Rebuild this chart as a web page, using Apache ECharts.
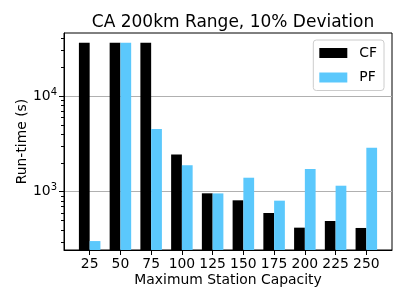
<!DOCTYPE html>
<html><head><meta charset="utf-8">
<script src="https://cdn.jsdelivr.net/npm/echarts@6/dist/echarts.min.js"></script>
<style>html,body{margin:0;padding:0;background:#fff}#c{width:407px;height:305px}</style>
</head><body><div id="c"></div>
<script>
const categories = [25, 50, 75, 100, 125, 150, 175, 200, 225, 250];
const cfValues = [36000, 36000, 36000, 2440, 962, 813, 599, 421, 494, 418];
const pfValues = [305, 36000, 4520, 1890, 960, 1400, 806, 1727, 1155, 2885];
const majorTicks = [1000, 10000];
const minorTicks = [300, 400, 500, 600, 700, 800, 900, 2000, 3000, 4000, 5000, 6000, 7000, 8000, 9000, 20000, 30000, 40000];

const FONT = 'DejaVu Sans';
const chart = echarts.init(document.getElementById('c'), null, {renderer: 'canvas'});
const pair = (vals) => categories.map((c, i) => [c, vals[i]]);
chart.setOption({
  animation: false,
  title: {
    text: 'CA 200km Range, 10% Deviation',
    left: 228, textAlign: 'center', top: 9,
    textStyle: {fontFamily: FONT, fontSize: 17, fontWeight: 'normal', color: '#000'}
  },
  legend: {
    orient: 'vertical', right: 23, top: 40,
    itemWidth: 28, itemHeight: 10, itemGap: 10.5,
    padding: [6, 7, 6, 6],
    borderColor: '#cccccc', borderWidth: 1, borderRadius: 3,
    backgroundColor: 'rgba(255,255,255,0.8)',
    textStyle: {fontFamily: FONT, fontSize: 13.9, color: '#000', padding: [0, 0, 0, 7]},
    data: [{name: 'CF', icon: 'rect'}, {name: 'PF', icon: 'rect'}]
  },
  grid: {left: 64, right: 15, top: 33, bottom: 55, show: true, borderColor: '#000', borderWidth: 1, backgroundColor: 'transparent'},
  xAxis: {
    type: 'value', min: 4.125, max: 270.875,
    name: 'Maximum Station Capacity', nameLocation: 'middle', nameGap: 23, nameMoveOverlap: false,
    nameTextStyle: {fontFamily: FONT, fontSize: 13.9, color: '#000'},
    axisLine: {show: true, lineStyle: {color: '#000'}},
    axisTick: {show: true, length: 5, lineStyle: {color: '#000'}, customValues: categories},
    axisLabel: {fontFamily: FONT, fontSize: 13.9, color: '#000', margin: 7, customValues: categories},
    splitLine: {show: false}
  },
  yAxis: [{
    type: 'log', min: 246, max: 45500,
    name: 'Run-time (s)', nameLocation: 'middle', nameGap: 35, nameRotate: 90, nameMoveOverlap: false,
    nameTextStyle: {fontFamily: FONT, fontSize: 13.9, color: '#000'},
    axisLine: {show: true, lineStyle: {color: '#000'}},
    axisTick: {show: true, length: 5, lineStyle: {color: '#000'}, customValues: majorTicks},
    axisLabel: {
      fontFamily: FONT, fontSize: 13.9, color: '#000', margin: 7, customValues: majorTicks,
      formatter: v => '10{s|' + Math.round(Math.log10(v)) + '}',
      rich: {s: {fontFamily: FONT, fontSize: 10, color: '#000', verticalAlign: 'top', padding: [0, 0, 8, 0]}}
    },
    splitLine: {show: true, lineStyle: {color: '#b0b0b0', width: 1}}
  }, {
    type: 'log', min: 246, max: 45500, position: 'left',
    axisLine: {show: false},
    axisTick: {show: true, length: 3, lineStyle: {color: '#000'}, customValues: minorTicks},
    axisLabel: {show: false},
    splitLine: {show: false}
  }],
  series: [
    {name: 'CF', type: 'bar', data: pair(cfValues), barWidth: 10.76, barGap: '0%', itemStyle: {color: '#000000'}, clip: true},
    {name: 'PF', type: 'bar', data: pair(pfValues), barWidth: 10.76, barGap: '0%', itemStyle: {color: '#5BC8FC'}, clip: true}
  ]
});
</script></body></html>
